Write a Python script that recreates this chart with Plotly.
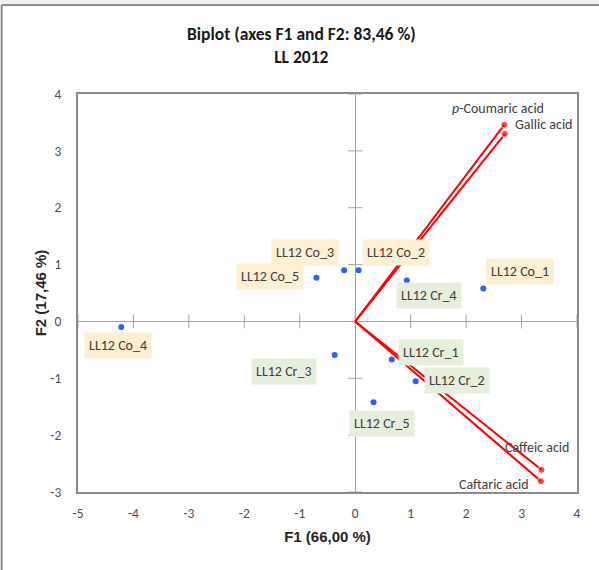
import plotly.graph_objects as go

# ---- data ----
obs_names = ["LL12 Co_1", "LL12 Co_2", "LL12 Co_3", "LL12 Co_4", "LL12 Co_5",
             "LL12 Cr_1", "LL12 Cr_2", "LL12 Cr_3", "LL12 Cr_4", "LL12 Cr_5"]
obs_f1 = [2.31, 0.06, -0.20, -4.22, -0.70, 0.66, 1.09, -0.37, 0.93, 0.33]
obs_f2 = [0.58, 0.90, 0.90, -0.10, 0.77, -0.67, -1.05, -0.59, 0.72, -1.42]

var_names = ["<i>p</i>-Coumaric acid", "Gallic acid", "Caffeic acid", "Caftaric acid"]
var_f1 = [2.69, 2.70, 3.36, 3.35]
var_f2 = [3.46, 3.30, -2.61, -2.81]

x_ticks = [-5, -4, -3, -2, -1, 0, 1, 2, 3, 4]
y_ticks = [-3, -2, -1, 0, 1, 2, 3, 4]

title_lines = ["Biplot (axes F1 and F2: 83,46 %)", "LL 2012"]

# ---- styling ----
FONT = "Carlito, Calibri, Lato, sans-serif"
lbl_off = {  # pixel offsets of labels (xshift, yshift)
    "LL12 Co_1": (37, 17), "LL12 Co_2": (37, 18), "LL12 Co_3": (-39, 18),
    "LL12 Co_4": (-3, -18), "LL12 Co_5": (-46, 1), "LL12 Cr_1": (39, 7),
    "LL12 Cr_2": (41, 1), "LL12 Cr_3": (-51, -17), "LL12 Cr_4": (22, -15),
    "LL12 Cr_5": (8, -21),
}
var_off = [(-6, 16, "center"), (8, 9, "left"), (-5, 22, "center"), (-47, -3, "center")]

fig = go.Figure()

# tick crosses on zero lines
fig.add_trace(go.Scatter(x=x_ticks, y=[0] * len(x_ticks), mode="markers",
                         marker=dict(symbol="line-ns-open", size=10, color="#a6a6a6",
                                     line=dict(color="#a6a6a6", width=1)),
                         hoverinfo="skip", showlegend=False))
fig.add_trace(go.Scatter(x=[0] * len(y_ticks), y=y_ticks, mode="markers",
                         marker=dict(symbol="line-ew-open", size=10, color="#a6a6a6",
                                     line=dict(color="#a6a6a6", width=1)),
                         hoverinfo="skip", showlegend=False))

# variable vectors
for n, x, y in zip(var_names, var_f1, var_f2):
    fig.add_trace(go.Scatter(x=[0, x], y=[0, y], mode="lines+markers",
                             line=dict(color="#ff0000", width=2),
                             marker=dict(color="#ff0000", size=[0, 7]),
                             showlegend=False, name=n))

# observations
fig.add_trace(go.Scatter(x=obs_f1, y=obs_f2, mode="markers",
                         marker=dict(color="#2f5ff5", size=6),
                         showlegend=False))

annotations = [dict(x=0.4475, y=1.123, xref="paper", yref="paper",
                    text="<b>" + "<br>".join(title_lines) + "</b>", showarrow=False,
                    xanchor="center", yanchor="middle",
                    font=dict(family=FONT, size=17.5, color="#1a1a1a"))]
for n, x, y in zip(obs_names, obs_f1, obs_f2):
    dx, dy = lbl_off[n]
    bg = "#fdefd2" if "Co" in n else "#e6eedc"
    annotations.append(dict(x=x, y=y, text=n, showarrow=False,
                            xshift=dx, yshift=dy, bgcolor=bg, borderpad=4,
                            font=dict(family=FONT, size=14, color="#404040")))
for (n, x, y), (dx, dy, anc) in zip(zip(var_names, var_f1, var_f2), var_off):
    annotations.append(dict(x=x, y=y, text=n, showarrow=False, xanchor=anc,
                            xshift=dx, yshift=dy,
                            font=dict(family=FONT, size=14, color="#404040")))

fig.update_layout(
    width=599, height=570,
    margin=dict(l=77.5, r=22, t=94, b=78),
    paper_bgcolor="white", plot_bgcolor="white",
    xaxis=dict(range=[-5, 4], tickvals=x_ticks, ticktext=[str(v) for v in x_ticks],
               showgrid=False,
               zeroline=True, zerolinecolor="#a6a6a6", zerolinewidth=1,
               showline=True, linecolor="#8c8c8c", linewidth=2, mirror=True,
               ticks="", ticklabelstandoff=8,
               tickfont=dict(family=FONT, size=13.5, color="#505050"),
               title=dict(text="<b>F1 (66,00 %)</b>", standoff=10,
                          font=dict(family="Liberation Sans, Arial", size=15, color="#262626"))),
    yaxis=dict(range=[-3, 4], tickvals=y_ticks, ticktext=[str(v) for v in y_ticks],
               showgrid=False,
               zeroline=True, zerolinecolor="#a6a6a6", zerolinewidth=1,
               showline=True, linecolor="#8c8c8c", linewidth=2, mirror=True,
               ticks="", ticklabelstandoff=12,
               tickfont=dict(family=FONT, size=13.5, color="#505050"),
               title=dict(text="<b>F2 (17,46 %)</b>", standoff=0,
                          font=dict(family="Liberation Sans, Arial", size=15, color="#262626"))),
    annotations=annotations,
    shapes=[
        dict(type="rect", xref="paper", yref="paper", x0=-0.2, x1=1.1,
             y0=1.2236, y1=1.3, fillcolor="#f0f0f0", line=dict(width=0), layer="below"),
        dict(type="line", xref="paper", yref="paper", x0=-0.153, x1=1.2,
             y0=1.2236, y1=1.2236, line=dict(color="#8c8c8c", width=2)),
        dict(type="line", xref="paper", yref="paper", x0=-0.153, x1=-0.153,
             y0=-0.3, y1=1.2236, line=dict(color="#8c8c8c", width=2)),
    ],
)

fig.write_html("out.html")
